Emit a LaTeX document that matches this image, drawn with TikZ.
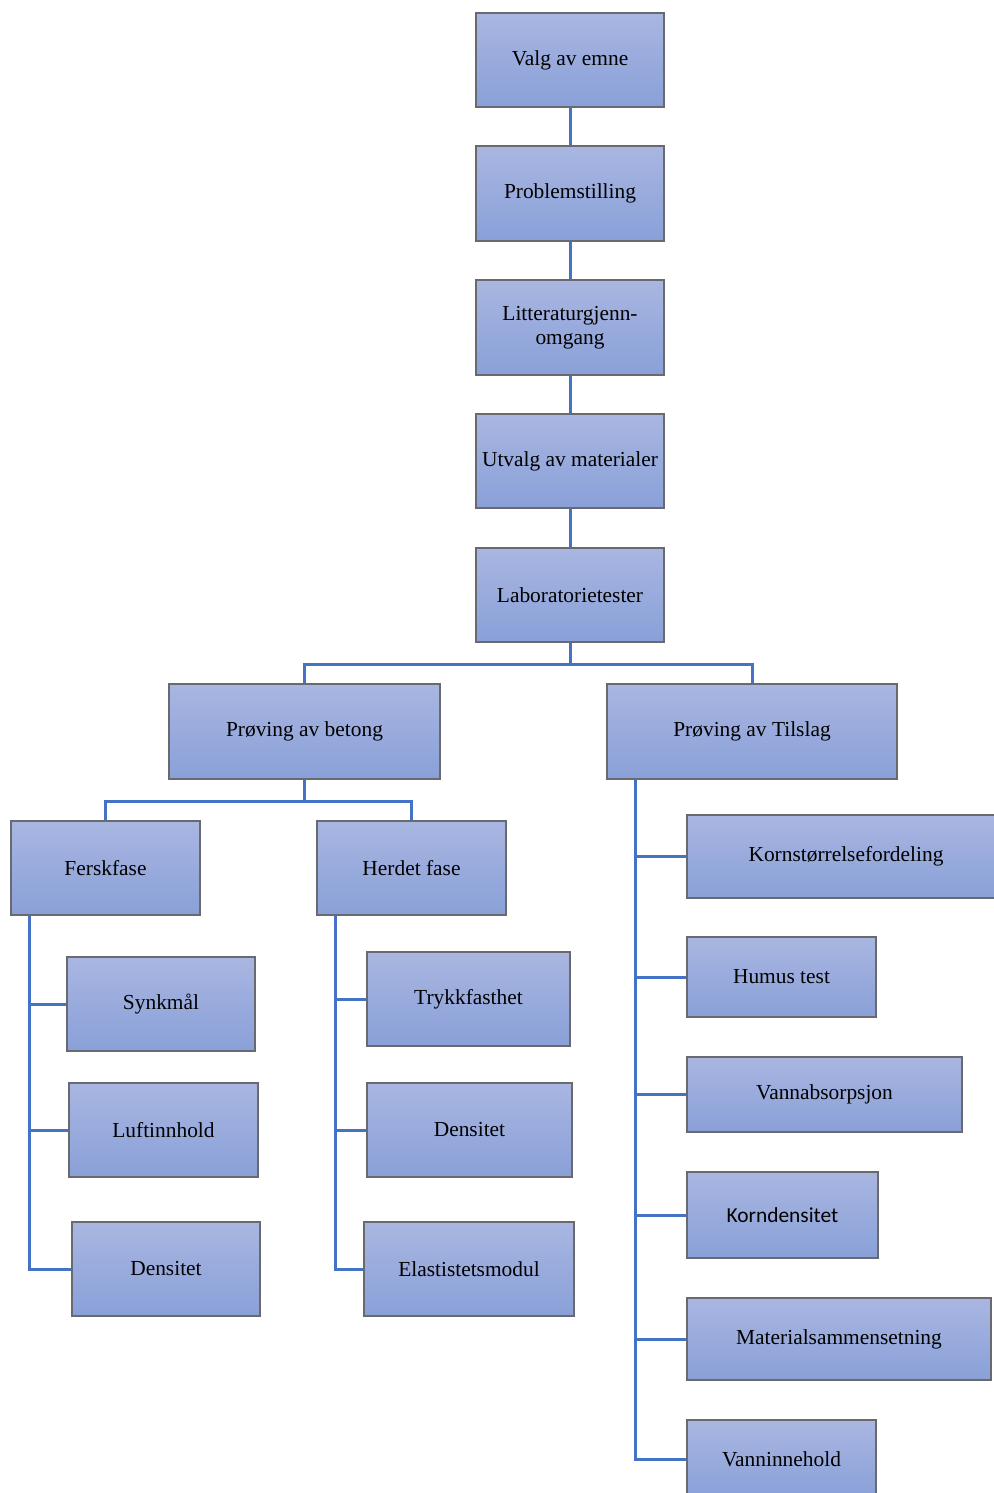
\documentclass[tikz,border=0pt]{standalone}
\usepackage{fontspec}
\setmainfont{Liberation Serif}
\newfontfamily\korndensfont{Carlito}
\usepackage{tikz}
\usetikzlibrary{calc,positioning}
\definecolor{linjeblaa}{RGB}{68,114,196}
\definecolor{boksgraa}{RGB}{105,106,112}
\definecolor{bokstopp}{RGB}{169,182,225}
\definecolor{boksbunn}{RGB}{137,160,216}
\tikzset{
  boks/.style={draw=boksgraa, line width=0.7pt, top color=bokstopp, bottom color=boksbunn, inner sep=0pt, align=center, font=\fontsize{10.7}{12}\selectfont},
  str/.style 2 args={minimum width=#1pt, minimum height=#2pt},
  gren/.style={draw=linjeblaa, line width=1.5pt},
}

\begin{document}
\begin{tikzpicture}[x=0.5pt, y=-0.5pt]
  \useasboundingbox (0,0) rectangle (993,1493);
  % hovedlinje
  \node[boks, str={94}{47}] (valg) at (570,60) {Valg av emne};
  \node[boks, str={94}{47.5}] (problem) at (570,193.5) {Problemstilling};
  \node[boks, str={94}{47.5}] (litt) at (570,327.5) {Litteraturgjenn-\\omgang};
  \node[boks, str={94}{47}] (utvalg) at (570,461) {Utvalg av materialer};
  \node[boks, str={94}{47}] (lab) at (570,595) {Laboratorietester};
  \node[boks, str={135.5}{47.5}] (betong) at (304.5,731.5) {Prøving av betong};
  \node[boks, str={145}{47.5}] (tilslag) at (752,731.5) {Prøving av Tilslag};
  % betong
  \node[boks, str={94.5}{47}] (fersk) at (105.5,868) {Ferskfase};
  \node[boks, str={94.5}{47}] (herdet) at (411.5,868) {Herdet fase};
  \node[boks, str={94}{47}] (synk) at (161,1004) {Synkmål};
  \node[boks, str={94.5}{47}] (luft) at (163.5,1130) {Luftinnhold};
  \node[boks, str={94}{47}] (densA) at (166,1269) {Densitet};
  \node[boks, str={101.5}{47}] (trykk) at (468.5,999) {Trykkfasthet};
  \node[boks, str={102.5}{47}] (densB) at (469.5,1130) {Densitet};
  \node[boks, str={105}{47}] (elast) at (469,1269) {Elastistetsmodul};
  % tilslag
  \node[boks, str={159}{41.5}] (korn) at (846,856.5) {Kornstørrelsefordeling};
  \node[boks, str={94.5}{40}] (humus) at (781.5,977) {Humus test};
  \node[boks, str={137.5}{37.5}] (vannabs) at (824.5,1094.5) {Vannabsorpsjon};
  \node[boks, str={95.5}{43}] (korndens) at (782.5,1215) {\korndensfont Korndensitet};
  \node[boks, str={152}{41}] (materiale) at (839,1339) {Materialsammensetning};
  \node[boks, str={94.5}{39}] (vanninn) at (781.5,1459) {Vanninnehold};

  \draw[gren] (valg) -- (problem);
  \draw[gren] (problem) -- (litt);
  \draw[gren] (litt) -- (utvalg);
  \draw[gren] (utvalg) -- (lab);
  \draw[gren] (lab.south) -- ++(0,22) -| (betong.north);
  \draw[gren] (lab.south) -- ++(0,22) -| (tilslag.north);
  \draw[gren] (betong.south) -- ++(0,22) -| (fersk.north);
  \draw[gren] (betong.south) -- ++(0,22) -| (herdet.north);
  \foreach \barn in {synk,luft,densA}
    \draw[gren] ([xshift=9.5pt]fersk.south west) |- (\barn.west);
  \foreach \barn in {trykk,densB,elast}
    \draw[gren] ([xshift=9.5pt]herdet.south west) |- (\barn.west);
  \foreach \barn in {korn,humus,vannabs,korndens,materiale,vanninn}
    \draw[gren] ([xshift=14.5pt]tilslag.south west) |- (\barn.west);
\end{tikzpicture}
\end{document}
